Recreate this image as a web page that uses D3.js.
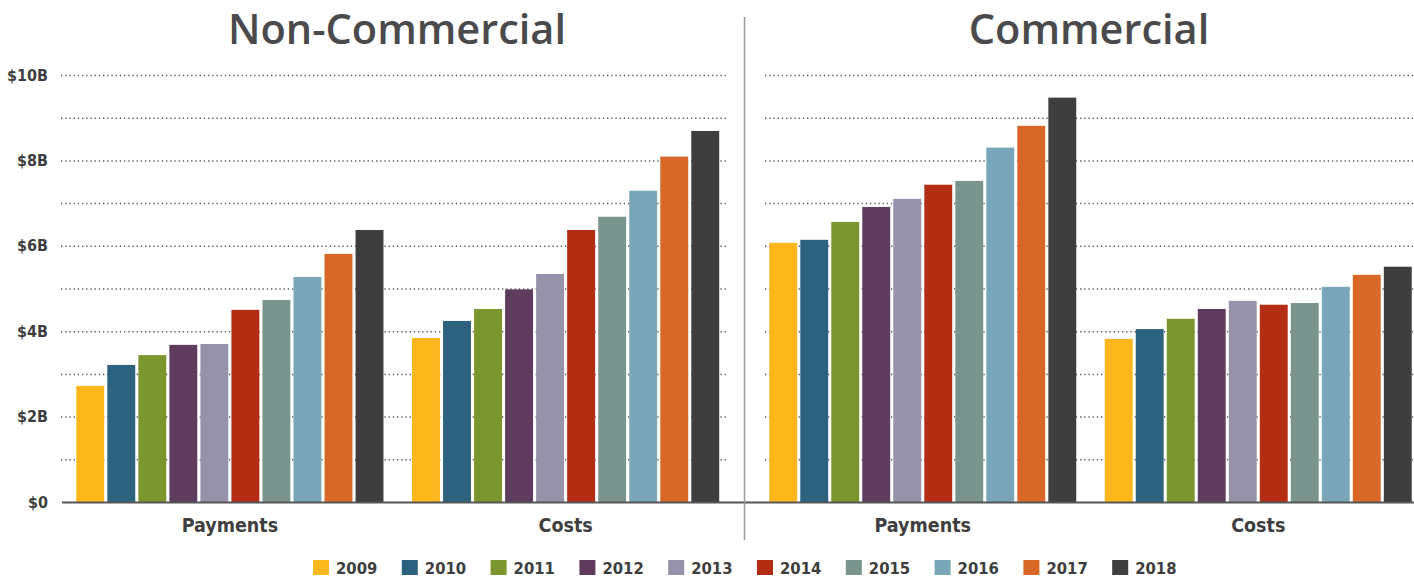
<!DOCTYPE html>
<html>
<head>
<meta charset="utf-8">
<script src="https://cdn.jsdelivr.net/npm/d3@7/dist/d3.min.js"></script>
<style>
  html, body { margin: 0; padding: 0; background: #fff; }
  svg { display: block; }
  .title { font-family: "Open Sans", "Noto Sans", sans-serif; font-weight: 600; fill: #4a4a4c; }
  .lbl { font-family: "DejaVu Sans Condensed", "Liberation Sans Narrow", sans-serif; font-weight: 700; fill: #3e3e40; }
</style>
</head>
<body>
<svg id="chart" width="1414" height="578"></svg>
<script>
// Annual totals in billions of dollars, 2009–2018
const years = ["2009", "2010", "2011", "2012", "2013", "2014", "2015", "2016", "2017", "2018"];
const groups = ["Payments", "Costs"];
const panelTitles = ["Non-Commercial", "Commercial"];

const nonCommercialPayments = [2.72, 3.21, 3.44, 3.68, 3.70, 4.50, 4.73, 5.27, 5.81, 6.37];
const nonCommercialCosts    = [3.84, 4.24, 4.52, 4.98, 5.34, 6.37, 6.68, 7.29, 8.09, 8.69];
const commercialPayments    = [6.07, 6.14, 6.56, 6.91, 7.10, 7.43, 7.52, 8.30, 8.81, 9.47];
const commercialCosts       = [3.82, 4.05, 4.29, 4.52, 4.71, 4.62, 4.66, 5.04, 5.32, 5.51];

const yTickValues = [0, 2, 4, 6, 8, 10];
const yTickLabels = ["$0", "$2B", "$4B", "$6B", "$8B", "$10B"];

const yearColors = ["#fdb71c", "#2d627f", "#7b962c", "#5e3b5f", "#9692a9",
                    "#b22d14", "#7a958d", "#7aa6b9", "#d96828", "#3e3e3e"];

const panels = [
  { title: panelTitles[0], series: [nonCommercialPayments, nonCommercialCosts] },
  { title: panelTitles[1], series: [commercialPayments, commercialCosts] }
];

const svg = d3.select("#chart");

const y = d3.scaleLinear().domain([0, 10]).range([502, 75]);
const color = d3.scaleOrdinal().domain(years).range(yearColors);

// layout per panel: band range for groups, and extent of the dotted grid
const panelLayout = [
  { range: [62, 733.5], grid: [61, 728], titleX: 397 },
  { range: [755, 1426], grid: [765, 1414], titleX: 1089 }
];

// dotted gridlines (one per $1B)
const gridValues = y.ticks(10).filter(d => d > 0);

panels.forEach((p, i) => {
  const L = panelLayout[i];
  const outer = d3.scaleBand().domain(groups).range(L.range).padding(0);
  const inner = d3.scaleBand().domain(years).range([0, outer.bandwidth()])
    .paddingInner(0.1).paddingOuter(0.46);

  const g = svg.append("g");

  g.selectAll("line.grid").data(gridValues).join("line")
    .attr("class", "grid")
    .attr("x1", L.grid[0]).attr("x2", L.grid[1])
    .attr("y1", d => y(d) + 0.5).attr("y2", d => y(d) + 0.5)
    .attr("stroke", "#5a5a5a")
    .attr("stroke-width", 1.5)
    .attr("stroke-dasharray", "1.3,2.9");

  const grp = g.selectAll("g.grp").data(groups).join("g")
    .attr("class", "grp")
    .attr("transform", d => `translate(${outer(d)},0)`);

  grp.selectAll("rect").data((d, gi) => years.map((yr, k) => ({ yr, v: p.series[gi][k] })))
    .join("rect")
    .attr("x", d => inner(d.yr))
    .attr("width", inner.bandwidth())
    .attr("y", d => y(d.v))
    .attr("height", d => y(0) - y(d.v))
    .attr("fill", d => color(d.yr));

  // group labels under the baseline
  const xAxis = d3.axisBottom(outer).tickSize(0).tickPadding(16);
  const xa = g.append("g").attr("transform", `translate(0,${y(0)})`).call(xAxis);
  xa.select(".domain").remove();
  xa.selectAll("text").attr("class", "lbl").attr("font-size", 19.5).attr("fill", "#3e3e40");

  svg.append("text").attr("class", "title")
    .attr("x", L.titleX).attr("y", 44)
    .attr("text-anchor", "middle")
    .attr("font-size", 41.5)
    .text(p.title);
});

// baseline
svg.append("line")
  .attr("x1", 62).attr("x2", 1414)
  .attr("y1", y(0) + 0.5).attr("y2", y(0) + 0.5)
  .attr("stroke", "#555").attr("stroke-width", 2);

// divider between the two panels
svg.append("line")
  .attr("x1", 744.5).attr("x2", 744.5)
  .attr("y1", 17).attr("y2", 540)
  .attr("stroke", "#9a9a9a").attr("stroke-width", 1.5);

// y axis labels
const yAxis = d3.axisLeft(y).tickValues(yTickValues)
  .tickFormat((d, i) => yTickLabels[i]).tickSize(0).tickPadding(0);
const ya = svg.append("g").attr("transform", "translate(48,0)").call(yAxis);
ya.select(".domain").remove();
ya.selectAll("text").attr("class", "lbl").attr("font-size", 16).attr("fill", "#3e3e40");

// legend, evenly spaced swatches
const legend = svg.append("g").attr("transform", "translate(313,568)");
const item = legend.selectAll("g").data(years).join("g")
  .attr("transform", (d, i) => `translate(${i * 88.8},0)`);
item.append("rect").attr("x", 0).attr("y", -8).attr("width", 16).attr("height", 15)
  .attr("fill", d => color(d));
item.append("text").attr("class", "lbl")
  .attr("x", 23).attr("y", 0).attr("dy", "0.36em")
  .attr("font-size", 16.5).text(d => d);
</script>
</body>
</html>
